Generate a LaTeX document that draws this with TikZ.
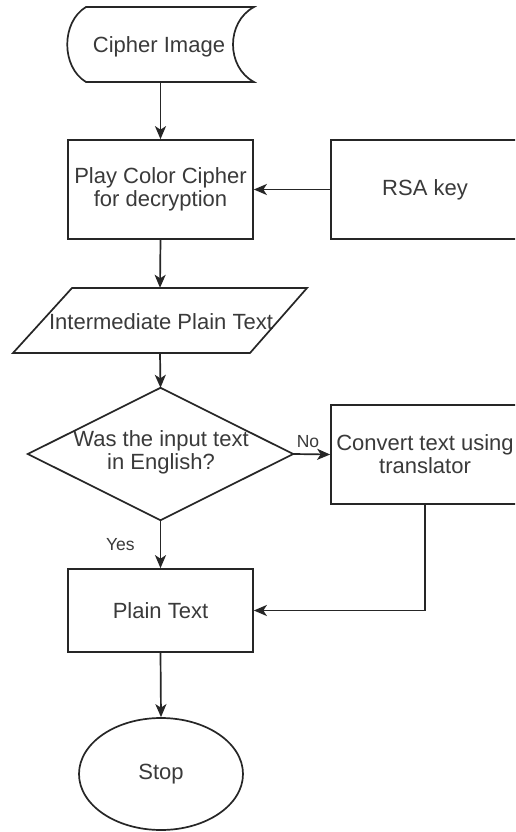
\documentclass[tikz,border=0pt]{standalone}
\usepackage{fontspec}
\setmainfont{Liberation Sans}
\usetikzlibrary{arrows.meta,shapes.geometric}
\definecolor{ink}{HTML}{262626}
\definecolor{txt}{HTML}{3A3A3A}
\newcommand\flowfont{\fontsize{22}{23}\selectfont}
\newcommand\tagfont{\fontsize{17.5}{19}\selectfont}

\begin{document}
\begin{tikzpicture}[x=1pt,y=-1pt,
  outline/.style={draw=ink, line width=1.7pt, line join=miter},
  flow/.style={draw=ink, line width=1.7pt,
    -{Stealth[length=13pt,width=11pt,inset=3.5pt]}},
  label/.style={font=\flowfont, text=txt, align=center, inner sep=0pt},
  tag/.style={font=\tagfont, text=txt, inner sep=0pt},
  procbox/.style={outline, rectangle, label, minimum height=99pt},
  frame/.style={rectangle, label}]

\useasboundingbox (0,0) rectangle (515,832);
\fill[white] (0,0) rectangle (515,832);
\clip (0,0) rectangle (515,832);

% stored data: Cipher Image
\node[frame, minimum width=187pt, minimum height=75pt] (img) at (160.5,44.5) {};
\node[label] at (159,47) {Cipher Image};
\draw[outline] (86,7) -- (254,7)
  .. controls (226,22) and (226,67) .. (254,82) -- (86,82)
  .. controls (61,67) and (61,22) .. cycle;

% processes
\node[procbox, minimum width=185pt] (play) at (160.5,189.5)
  {Play Color Cipher\\for decryption};
\node[procbox, minimum width=188pt] (rsa) at (425,189.5) {RSA key};

% data: Intermediate Plain Text
\node[frame, minimum width=237pt, minimum height=65pt] (inter) at (160,320.5) {};
\node[label] at (161,322) {Intermediate Plain Text};
\draw[outline] (72,288) -- (307,288) -- (250,353) -- (13,353) -- cycle;

% decision
\node[frame, minimum width=265pt, minimum height=132pt] (dec) at (160.5,454) {};
\node[label] at (161,452) {Was the input text\\in English?};
\draw[outline] (dec.north) -- (dec.east) -- (dec.south) -- (dec.west) -- cycle;

\node[procbox, minimum width=188pt] (conv) at (425,454.5)
  {Convert text using\\translator};

\node[procbox, minimum width=185pt, minimum height=83pt] (plain) at (160.5,610.5)
  {Plain Text};

% terminator
\node[outline, ellipse, label, minimum width=164pt, minimum height=112pt]
  (stop) at (161,774) {Stop};

% connectors
\draw[flow] (img.south) -- (play.north);
\draw[flow] (rsa.west) -- (play.east);
\draw[flow] (play.south) -- (inter.north);
\draw[flow] (inter.south) -- (dec.north);
\draw[flow] (dec.east) -- node[tag, pos=0.4, above=6pt] {No} (conv.west);
\draw[flow] (dec.south) -- node[tag, pos=0.5, left=25pt] {Yes} (plain.north);
\draw[flow] (conv.south) |- (plain.east);
\draw[flow] (plain.south) -- (stop.north);
\end{tikzpicture}
\end{document}
